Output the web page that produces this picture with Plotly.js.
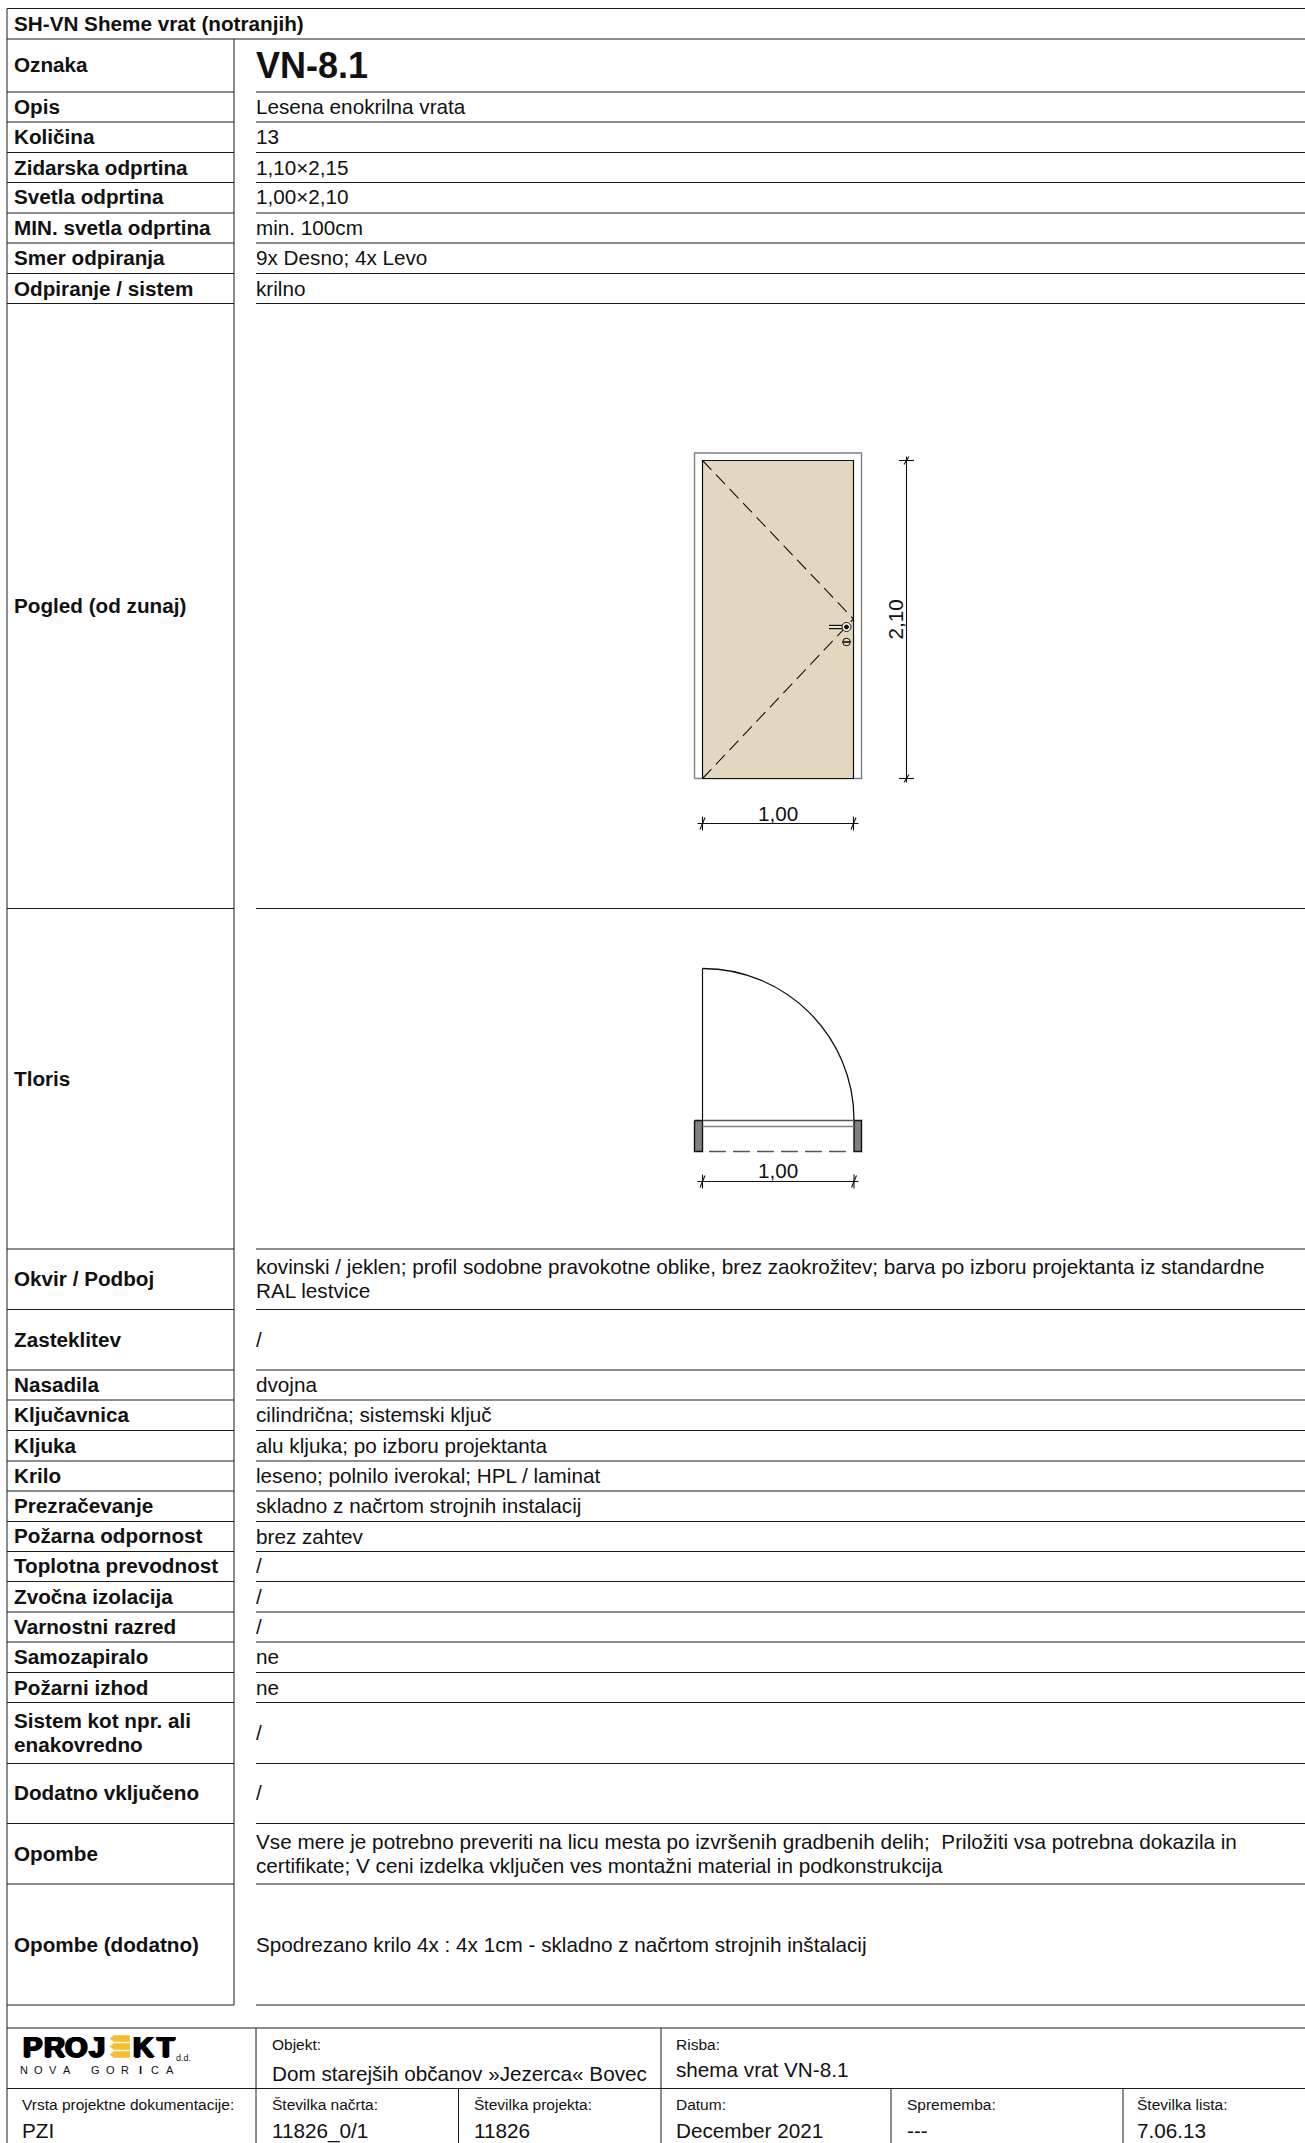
<!DOCTYPE html>
<html><head><meta charset="utf-8">
<style>html,body{margin:0;padding:0;background:#fff}#c{width:1305px;height:2143px}</style>
<script src="https://cdn.plot.ly/plotly-3.0.1.min.js"></script></head>
<body><div id="c"></div>
<script>
// ---------- table content ----------
const headerText = ['SH-VN Sheme vrat (notranjih)'];
const rowLabels = ['Oznaka','Opis','Količina','Zidarska odprtina','Svetla odprtina','MIN. svetla odprtina','Smer odpiranja','Odpiranje / sistem','Pogled (od zunaj)','Tloris','Okvir / Podboj','Zasteklitev','Nasadila','Ključavnica','Kljuka','Krilo','Prezračevanje','Požarna odpornost','Toplotna prevodnost','Zvočna izolacija','Varnostni razred','Samozapiralo','Požarni izhod','Sistem kot npr. ali','enakovredno','Dodatno vključeno','Opombe','Opombe (dodatno)'];
const rowLabelY = [64.3,106.3,136.3,167.2,196.8,227.3,257.3,288.3,605.3,1078.3,1278.3,1339.3,1384.3,1414.3,1445.3,1475.3,1505.3,1535.8,1565.8,1596.3,1626.3,1656.3,1687.2,1720.3,1744.8,1792.8,1853.3,1944.3];
const rowValues = ['Lesena enokrilna vrata','13','1,10×2,15','1,00×2,10','min. 100cm','9x Desno; 4x Levo','krilno','kovinski / jeklen; profil sodobne pravokotne oblike, brez zaokrožitev; barva po izboru projektanta iz standardne','RAL lestvice','/','dvojna','cilindrična; sistemski ključ','alu kljuka; po izboru projektanta','leseno; polnilo iverokal; HPL / laminat','skladno z načrtom strojnih instalacij','brez zahtev','/','/','/','ne','ne','/','/','Vse mere je potrebno preveriti na licu mesta po izvršenih gradbenih delih;  Priložiti vsa potrebna dokazila in','certifikate; V ceni izdelka vključen ves montažni material in podkonstrukcija','Spodrezano krilo 4x : 4x 1cm - skladno z načrtom strojnih inštalacij'];
const rowValueY = [106.3,136.3,167.2,196.8,227.3,257.3,288.3,1266.3,1290.3,1339.3,1384.3,1414.3,1445.3,1475.3,1505.8,1536.2,1565.8,1596.3,1626.3,1656.3,1687.2,1732.3,1792.8,1841.3,1865.8,1944.8];
const titleCode = ['VN-8.1'];

// ---------- footer content ----------
const footerSmall = ['Objekt:','Risba:','Vrsta projektne dokumentacije:','Številka načrta:','Številka projekta:','Datum:','Sprememba:','Številka lista:'];
const footerSmallX = [272,675.5,22,272,473.5,675.5,907,1136.5];
const footerSmallY = [2044,2044,2104.5,2104.5,2104.5,2104.5,2104.5,2104.5];
const footerLarge = ['Dom starejših občanov »Jezerca« Bovec','shema vrat VN-8.1','PZI','11826_0/1','11826','December 2021','---','7.06.13'];
const footerLargeX = [272,675.5,22,272,473.5,675.5,907,1136.5];
const footerLargeY = [2073.5,2069.5,2130.5,2130.5,2130.5,2130.5,2130.5,2130.5];

// ---------- logo ----------
const logoLetters = ['P','R','O','J','K','T'];
const logoLetterX = [32.5,54,76,97,143,166];
const logoSub = ['N','O','V','A','G','O','R','I','C','A'];
const logoSubX = [24,38.5,52.5,66.5,95,110,125,140.5,155,170];
const logoBarX = [[130,114,110,114,130],[130,114,110,114,130],[130,114,110,114,130]];
const logoBarY = [[2035.5,2035.5,2038.5,2041.5,2041.5],[2043.5,2043.5,2046.5,2049.5,2049.5],[2051.5,2051.5,2054.5,2057.5,2057.5]];

// ---------- table rules ----------
const fullRules = [39,2028,2088.5];
const splitRules = [92,122,152.5,182.5,213,243,273.5,303.5,908.5,1249,1309.5,1370,1400,1430.5,1461,1491,1521.5,1551.5,1581.5,1612,1642,1672.5,1702.5,1763.5,1823.5,1884,2005];
const tableX = [7,234,256,1305];
const tableTop = [8.5];
const footerVertX = [256,661,458.5,891,1123];
const footerVertTop = [2028,2028,2088.5,2088.5,2088.5];
const pageBottom = [2143];

// ---------- elevation drawing ----------
const frameX = [694.5,694.5,861.5,861.5,694.5];
const frameY = [778.5,453,453,778.5,778.5];
const leafX = [702.5,702.5,853.5,853.5,702.5];
const leafY = [778.5,460.5,460.5,778.5,778.5];
const swingTopX = [702.5,853.5];
const swingTopY = [460.5,619];
const swingBotX = [702.5,853.5];
const swingBotY = [778.5,619];
const handleX = [829,846];
const handleY = [627,627];
const handleCircle = [846.5,627,4.5];
const lockCircle = [846.5,642,3.8];

// ---------- dimension lines ----------
const dimH = [[697.5,858.5,823.5,702.5,853.5],[697.5,858.5,1181.5,702.5,854]];
const dimV = [906.5,456.5,782.5,460.5,778.5];
const dimLabels = ['1,00','1,00','2,10'];
const dimLabelX = [777.5,777.5,895];
const dimLabelY = [813,1170,619.5];
const dimLabelAngle = [0,0,-90];

// ---------- plan drawing ----------
const hinge = [702.5,1120,151.5];
const wallLX = [694.5,702.5,702.5,694.5,694.5];
const wallRX = [854,861.5,861.5,854,854];
const wallY = [1120.5,1120.5,1151.5,1151.5,1120.5];
const planLineY = [1120.5,1126.5];
const planDashY = [1151.5];
const planDashX = [709,847];

const INK = '#111111', GREY = '#808080', MID = '#555555', WOOD = '#E3D7BF';
const withBreaks = segs => { const x=[],y=[]; segs.forEach(s=>{x.push(s[0],s[2],null);y.push(s[1],s[3],null);}); return {x,y}; };
const segs = [];
fullRules.forEach(y=>segs.push([tableX[0],y,tableX[3],y]));
segs.push([tableX[0],tableTop[0],tableX[3],tableTop[0]]);
splitRules.forEach(y=>{segs.push([tableX[0],y,tableX[1],y]);segs.push([tableX[2],y,tableX[3],y]);});
segs.push([tableX[0],tableTop[0],tableX[0],pageBottom[0]]);
segs.push([tableX[1],fullRules[0],tableX[1],splitRules[splitRules.length-1]]);
footerVertX.forEach((x,i)=>segs.push([x,footerVertTop[i],x,pageBottom[0]]));
const tickSegs = [];
dimH.forEach(d=>{
  tickSegs.push([d[0],d[2],d[1],d[2]]);
  [d[3],d[4]].forEach(x=>{tickSegs.push([x,d[2]-7,x,d[2]+7]);tickSegs.push([x-2.5,d[2]+6,x+2.5,d[2]-6]);});
});
tickSegs.push([dimV[0],dimV[1],dimV[0],dimV[2]]);
[dimV[3],dimV[4]].forEach(y=>{tickSegs.push([dimV[0]-7.5,y,dimV[0]+7.5,y]);tickSegs.push([dimV[0]-2.5,y+4,dimV[0]+2.5,y-4]);});

const line = (d,color,width,extra) => Object.assign({type:'scatter',mode:'lines',x:d.x,y:d.y,line:{color:color,width:width,simplify:false},hoverinfo:'skip',showlegend:false,connectgaps:false},extra||{});
const traces = [
  line(withBreaks(segs),'#1c1c1c',1),
  line({x:frameX,y:frameY},GREY,1.4),
  line({x:leafX,y:leafY},INK,1.2,{fill:'toself',fillcolor:WOOD}),
  line({x:swingTopX,y:swingTopY},INK,1.1,{line:{color:INK,width:1.1,dash:'13px,6.6px'}}),
  line({x:swingBotX,y:swingBotY},INK,1.1,{line:{color:INK,width:1.1,dash:'13px,6.6px'}}),
  line({x:handleX,y:handleY},INK,4.4),
  line({x:handleX,y:handleY},'#ffffff',1.8),
  line(withBreaks(tickSegs),INK,1.1),
  line({x:wallLX,y:wallY},INK,1.4,{fill:'toself',fillcolor:GREY}),
  line({x:wallRX,y:wallY},INK,1.4,{fill:'toself',fillcolor:GREY}),
  line({x:[hinge[0],hinge[0]],y:[hinge[1]-hinge[2],hinge[1]]},INK,1.2),
  line({x:[hinge[0],wallRX[0]],y:[planLineY[0],planLineY[0]]},MID,1.4),
  line({x:[hinge[0],wallRX[0]],y:[planLineY[1],planLineY[1]]},GREY,1.4),
  line({x:planDashX,y:[planDashY[0],planDashY[0]]},MID,1.3,{line:{color:MID,width:1.3,dash:'17px,7px'}}),
];
logoBarX.forEach((bx,i)=>traces.push(line({x:bx,y:logoBarY[i]},'#F4B92A',0.5,{fill:'toself',fillcolor:'#F6BE2E'})));

const k = 0.5523;
const r = hinge[2], hx = hinge[0], hy = hinge[1];
const shapes = [
  {type:'path',xref:'x',yref:'y',path:`M ${hx} ${hy-r} C ${hx+k*r} ${hy-r} ${hx+r} ${hy-k*r} ${hx+r} ${hy}`,line:{color:INK,width:1.3}},
  {type:'circle',xref:'x',yref:'y',x0:handleCircle[0]-handleCircle[2],x1:handleCircle[0]+handleCircle[2],y0:handleCircle[1]-handleCircle[2],y1:handleCircle[1]+handleCircle[2],line:{color:INK,width:1},fillcolor:'#ffffff'},
  {type:'circle',xref:'x',yref:'y',x0:handleCircle[0]-2,x1:handleCircle[0]+2,y0:handleCircle[1]-2,y1:handleCircle[1]+2,line:{color:INK,width:1},fillcolor:INK},
  {type:'circle',xref:'x',yref:'y',x0:lockCircle[0]-lockCircle[2],x1:lockCircle[0]+lockCircle[2],y0:lockCircle[1]-lockCircle[2],y1:lockCircle[1]+lockCircle[2],line:{color:INK,width:1},fillcolor:WOOD},
  {type:'line',xref:'x',yref:'y',x0:lockCircle[0]-lockCircle[2],x1:lockCircle[0]+lockCircle[2],y0:lockCircle[1],y1:lockCircle[1],line:{color:INK,width:1.6}},
];

const SANS = 'Liberation Sans, Arial, sans-serif';
const label = (text,x,y,size,opt) => Object.assign({text:text,x:x,y:y,xref:'x',yref:'y',showarrow:false,xanchor:'left',yanchor:'middle',borderpad:0,borderwidth:0,font:{family:SANS,size:size,color:'#111'}},opt||{});
const ann = [];
const BOLD = {family:SANS,size:20.7,color:'#111',weight:700};
ann.push(label(headerText[0],14,23.3,20.7,{font:BOLD}));
rowLabels.forEach((t,i)=>ann.push(label(t,14,rowLabelY[i],20.7,{font:BOLD})));
rowValues.forEach((t,i)=>ann.push(label(t,256,rowValueY[i],20.7)));
ann.push(label(titleCode[0],256,65,36,{font:{family:SANS,size:36,color:'#111',weight:700}}));
footerSmall.forEach((t,i)=>ann.push(label(t,footerSmallX[i],footerSmallY[i],15.5)));
footerLarge.forEach((t,i)=>ann.push(label(t,footerLargeX[i],footerLargeY[i],20.7)));
dimLabels.forEach((t,i)=>ann.push(label(t,dimLabelX[i],dimLabelY[i],20.7,{xanchor:'center',textangle:dimLabelAngle[i]})));
logoLetters.forEach((t,i)=>ann.push(label(t,logoLetterX[i],2046.5,29,{xanchor:'center',font:{family:SANS,size:29,color:'#000',weight:700,shadow:'1.2px 0 0 #000,-1.2px 0 0 #000,0 0.5px 0 #000,0 -0.5px 0 #000'}})));
logoSub.forEach((t,i)=>ann.push(label(t,logoSubX[i],2069.5,11,{xanchor:'center',font:{family:SANS,size:11,color:'#111',weight:t==='I'?700:400}})));
ann.push(label('d.d.',176,2057.5,9));

const axis = r => ({range:r,visible:false,fixedrange:true,showgrid:false,zeroline:false});
Plotly.newPlot('c',traces,{
  width:1305,height:2143,margin:{l:0,r:0,t:0,b:0,pad:0},
  paper_bgcolor:'#fff',plot_bgcolor:'#fff',showlegend:false,
  xaxis:axis([0,1305]),yaxis:axis([2143,0]),
  shapes:shapes,annotations:ann,hovermode:false
},{staticPlot:true,displayModeBar:false});
</script></body></html>
